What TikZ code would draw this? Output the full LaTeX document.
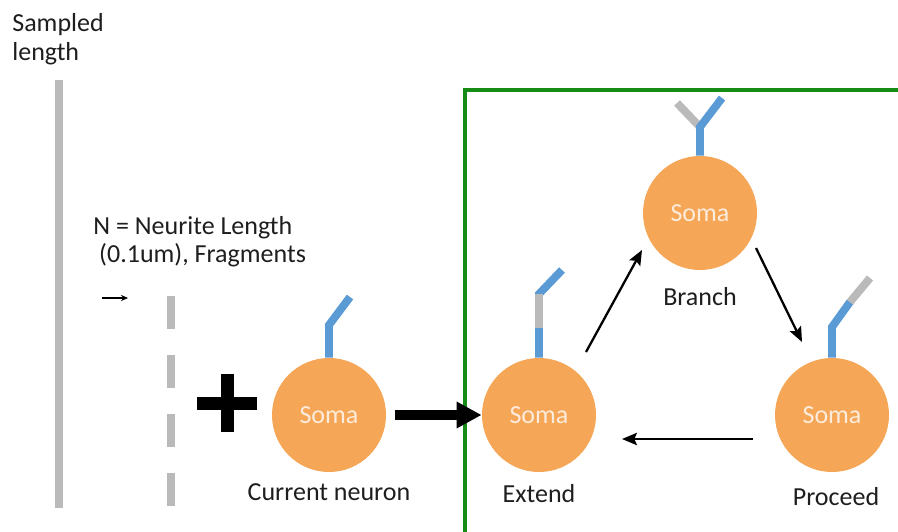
\documentclass[tikz,border=0pt]{standalone}
\usepackage{fontspec}
\setmainfont{Carlito}
\usepackage{xcolor}
\usetikzlibrary{arrows.meta, calc}
\definecolor{somaorange}{RGB}{245,166,86}
\definecolor{neuriteblue}{RGB}{91,155,213}
\definecolor{fraggray}{RGB}{186,186,186}
\definecolor{framegreen}{RGB}{22,140,22}
\definecolor{somatext}{RGB}{253,236,220}
\definecolor{txt}{RGB}{30,30,30}
\newcommand\lbfont{\fontsize{14.8}{16}\selectfont}

\begin{document}
\begin{tikzpicture}[
  soma/.style={circle, fill=somaorange, minimum size=2.28cm, inner sep=0pt,
               text=somatext, font=\lbfont},
  lbl/.style={text=txt, inner sep=0pt, font=\lbfont},
  blu/.style={line width=4.5pt, neuriteblue},
  gry/.style={line width=4.5pt, fraggray},
  arr/.style={-{Stealth[length=8.5pt, width=7pt, inset=1.5pt]}, line width=1.3pt, black},
  sarr/.style={-{Stealth[length=4pt, width=3.5pt]}, line width=0.7pt, black},
  bigarr/.style={-{Triangle[length=0.5cm, width=0.5cm]}, line width=5.7pt, black}
]
\useasboundingbox (0,0) rectangle (17.96,-10.62);
%% LEFT: sampled length and fragments
\node[lbl, anchor=north west, align=left] (samp) at (0.24,-0.27) {Sampled\\length};
\draw[gry] (1.18,-1.6) -- (1.18,-10.16);
\node[lbl, anchor=north west, align=left] (nlen) at (1.86,-4.32)
  {N = Neurite Length\\\ (0.1um), Fragments};
\coordinate (sa) at (2.04,-5.96);
\coordinate (sb) at (2.56,-5.96);
\draw[sarr] (sa) -- (sb);
\draw[gry, dash pattern=on 0.66cm off 0.52cm] (3.42,-5.92) -- (3.42,-10.16);
\coordinate (plus) at (4.54,-8.06);
\draw[line width=0.26cm] ($(plus)+(-0.6,0)$) -- ($(plus)+(0.6,0)$);
\draw[line width=0.26cm] ($(plus)+(0,-0.58)$) -- ($(plus)+(0,0.58)$);
%% current neuron
\node[soma] (cur) at (6.58,-8.30) {Soma};
\draw[blu] (cur.north) -- (6.58,-6.5) -- (7.0,-5.94);
\node[lbl, anchor=base] (curlbl) at (6.58,-10.0) {Current neuron};
%% green frame
\draw[framegreen, line width=1.9pt] (9.3,-11) |- (18.5,-1.8);
%% Extend
\node[soma] (ext) at (10.78,-8.30) {Soma};
\draw[blu] (ext.north) -- (10.78,-5.88) -- (11.24,-5.4);
\draw[gry] (10.78,-6.56) -- (10.78,-5.88);
\node[lbl, anchor=base] (extlbl) at (10.78,-10.04) {Extend};
%% Branch
\node[soma] (br) at (14.0,-4.26) {Soma};
\draw[gry] (14.0,-2.54) -- (13.54,-2.06);
\draw[blu] (br.north) -- (14.0,-2.54) -- (14.44,-1.96);
\node[lbl, anchor=base] (brlbl) at (14.0,-6.10) {Branch};
%% Proceed
\node[soma] (pr) at (16.64,-8.30) {Soma};
\draw[blu] (pr.north) -- (16.64,-6.54) -- (17.0,-6.04);
\draw[gry] (17.0,-6.04) -- (17.4,-5.56);
\node[lbl, anchor=base] (prlbl) at (16.72,-10.10) {Proceed};
%% arrows
\draw[bigarr, shorten <=0.18cm] (cur) -- (ext);
\draw[arr] ($(ext)+(0.94,1.26)$) -- ($(br)+(-1.16,-0.74)$);
\draw[arr] ($(br)+(1.12,-0.70)$) -- ($(pr)+(-0.60,1.46)$);
\draw[arr] ($(pr)+(-1.58,-0.48)$) -- ($(ext)+(1.66,-0.48)$);
\end{tikzpicture}
\end{document}
